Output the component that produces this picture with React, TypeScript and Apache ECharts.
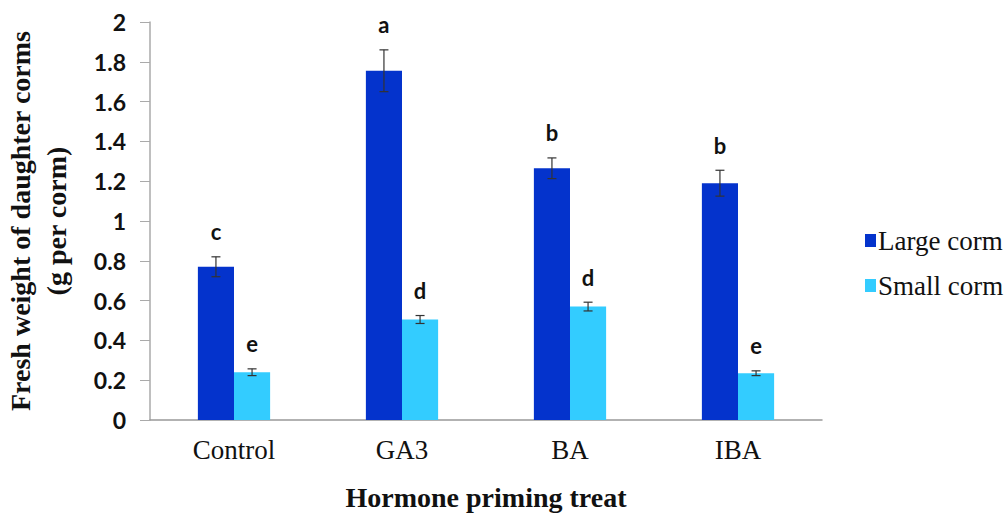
import React, { useEffect, useRef } from "react";
import * as echarts from "echarts";

const categories = ["Control", "GA3", "BA", "IBA"];
const largeValues = [0.77, 1.755, 1.265, 1.19];
const largeErrors = [0.05, 0.105, 0.052, 0.065];
const largeLetters = ["c", "a", "b", "b"];
const smallValues = [0.24, 0.505, 0.57, 0.235];
const smallErrors = [0.017, 0.02, 0.022, 0.012];
const smallLetters = ["e", "d", "d", "e"];
const yTicks = { min: 0, max: 2, interval: 0.2 };

const LARGE_COLOR = "#0433CC";
const SMALL_COLOR = "#33CCFF";
const CAT_GAP = 0.57;

function errorSeries(values: number[], errs: number[], letters: string[], side: number) {
  return {
    type: "custom",
    silent: true,
    z: 10,
    encode: { x: 0, y: 1 },
    data: values.map((v, i) => [i, v, errs[i], letters[i]]),
    renderItem: (params: any, api: any) => {
      const idx = api.value(0);
      const v = api.value(1);
      const e = api.value(2);
      const catW = api.size([1, 0])[0];
      const barW = (catW * (1 - CAT_GAP)) / 2;
      const center = api.coord([idx, v]);
      const x = center[0] + (side * barW) / 2;
      const top = api.coord([idx, v + e])[1];
      const bot = api.coord([idx, v - e])[1];
      const cap = 4.5;
      const st = { stroke: "#333", lineWidth: 1.2 };
      return {
        type: "group",
        children: [
          { type: "line", shape: { x1: x, y1: top, x2: x, y2: bot }, style: st },
          { type: "line", shape: { x1: x - cap, y1: top, x2: x + cap, y2: top }, style: st },
          { type: "line", shape: { x1: x - cap, y1: bot, x2: x + cap, y2: bot }, style: st },
          {
            type: "text",
            x: x,
            y: top - 25,
            style: {
              text: String(letters[idx]),
              align: "center",
              verticalAlign: "middle",
              fontFamily: "Lato",
              fontWeight: "bold",
              fontSize: 22,
              fill: "#111",
            },
          },
        ],
      };
    },
  };
}

export default function App() {
  const ref = useRef<HTMLDivElement>(null);
  useEffect(() => {
    if (!ref.current) return;
    const chart = echarts.init(ref.current, undefined, { renderer: "svg" });
    chart.setOption({
      animation: false,
      backgroundColor: "#fff",
      grid: { left: 150, right: 186, top: 22, bottom: 94, outerBoundsMode: "none", containLabel: false },
      legend: {
        orient: "vertical",
        left: 860,
        top: 222,
        itemWidth: 11,
        itemHeight: 13,
        itemGap: 18,
        icon: "rect",
        data: ["Large corm", "Small corm"],
        textStyle: { fontFamily: "Liberation Serif", fontSize: 27, color: "#111", padding: [0, 0, 0, -3] },
      },
      xAxis: {
        type: "category",
        data: categories,
        axisLine: { lineStyle: { color: "#999", width: 1.5 } },
        axisTick: { show: false },
        axisLabel: { fontFamily: "Liberation Serif", fontSize: 27, color: "#111", margin: 16 },
        name: "Hormone priming treat",
        nameLocation: "middle",
        nameGap: 63,
        nameTextStyle: { fontFamily: "Liberation Serif", fontWeight: "bold", fontSize: 28, color: "#111" },
      },
      yAxis: {
        type: "value",
        min: yTicks.min,
        max: yTicks.max,
        interval: yTicks.interval,
        splitLine: { show: false },
        axisLine: { show: true, lineStyle: { color: "#aaa", width: 1.5 } },
        axisTick: { show: true, length: 10, lineStyle: { color: "#aaa" } },
        axisLabel: {
          fontFamily: "Lato",
          fontWeight: "bold",
          fontSize: 23,
          color: "#111",
          margin: 24,
          formatter: (v: number) => String(Math.round(v * 10) / 10),
        },
        name: "Fresh weight of daughter corms\n(g per corm)",
        nameLocation: "middle",
        nameRotate: 90,
        nameGap: 76,
        nameTextStyle: {
          fontFamily: "Liberation Serif",
          fontWeight: "bold",
          fontSize: 28,
          color: "#111",
          lineHeight: 36,
        },
      },
      series: [
        {
          name: "Large corm",
          type: "bar",
          data: largeValues,
          itemStyle: { color: LARGE_COLOR },
          barGap: "0%",
          barCategoryGap: CAT_GAP * 100 + "%",
        },
        {
          name: "Small corm",
          type: "bar",
          data: smallValues,
          itemStyle: { color: SMALL_COLOR },
          barGap: "0%",
          barCategoryGap: CAT_GAP * 100 + "%",
        },
        errorSeries(largeValues, largeErrors, largeLetters, -1),
        errorSeries(smallValues, smallErrors, smallLetters, 1),
      ],
    });
    return () => chart.dispose();
  }, []);
  return <div ref={ref} style={{ position: "fixed", left: 0, top: 0, width: 1008, height: 514 }} />;
}
